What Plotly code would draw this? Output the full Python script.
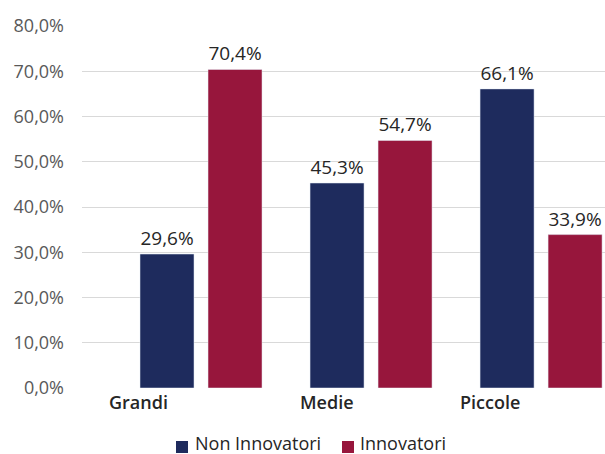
import plotly.graph_objects as go

# Data
categories = ["Grandi", "Medie", "Piccole"]
series_names = ["Non Innovatori", "Innovatori"]
non_innovatori = [29.6, 45.3, 66.1]
innovatori = [70.4, 54.7, 33.9]
y_ticks = [0, 10, 20, 30, 40, 50, 60, 70, 80]
y_tick_labels = [f"{v:.1f}%".replace(".", ",") for v in y_ticks]

# Styling
colors = ["#1E2B5D", "#97163C"]
FONT = "Open Sans"
W, H = 605, 454
ML, MR, MT, MB = 82, 0, 26, 66
# category label offsets (in category units) relative to each group centre
label_offsets = [-0.365, -0.262, -0.30]

fig = go.Figure()
for name, vals, col in zip(series_names, [non_innovatori, innovatori], colors):
    fig.add_trace(go.Bar(
        x=categories, y=vals, name=name, marker_color=col,
        texttemplate="%{y:.1f}%", textposition="outside",
        textfont=dict(family=FONT, size=19, color="#262626"),
        constraintext="none", cliponaxis=False, showlegend=False,
    ))

plot_w = W - ML - MR
plot_h = H - MT - MB


def px_x(x):
    return (x - ML) / plot_w


def px_y(y):
    return (H - MB - y) / plot_h


annotations = []
# category labels under each group
for i, (cat, off) in enumerate(zip(categories, label_offsets)):
    annotations.append(dict(
        x=i + off, y=0, xref="x", yref="y", text=cat, showarrow=False,
        xanchor="center", yanchor="top", yshift=0,
        font=dict(family=FONT, size=18, color="#262626", weight=600),
    ))

# legend: coloured squares followed by series names
shapes = []
legend_items = [(176, 193), (342, 358)]
for (sq_x, tx_x), name, col in zip(legend_items, series_names, colors):
    shapes.append(dict(
        type="rect", xref="paper", yref="paper",
        x0=px_x(sq_x), x1=px_x(sq_x + 12), y0=px_y(453), y1=px_y(441),
        fillcolor=col, line=dict(width=0),
    ))
    annotations.append(dict(
        x=px_x(tx_x), y=px_y(443), xref="paper", yref="paper", text=name,
        showarrow=False, xanchor="left", yanchor="middle",
        font=dict(family=FONT, size=18, color="#262626"),
    ))

fig.update_layout(
    width=W, height=H,
    margin=dict(l=ML, r=MR, t=MT, b=MB),
    paper_bgcolor="white", plot_bgcolor="white",
    barmode="group", bargap=0.2, bargroupgap=0.206,
    showlegend=False,
    annotations=annotations, shapes=shapes,
    separators=",.",
    xaxis=dict(range=[-0.7, 2.376], showticklabels=False, showgrid=False,
               zeroline=False, showline=False, ticks=""),
    yaxis=dict(range=[0, 80], tickvals=y_ticks, ticktext=y_tick_labels,
               showgrid=True, gridcolor="#D9D9D9", gridwidth=1.3,
               zeroline=False, showline=False, ticklabelstandoff=17,
               tickfont=dict(family=FONT, size=18, color="#595959")),
)

fig.write_html("out.html")
